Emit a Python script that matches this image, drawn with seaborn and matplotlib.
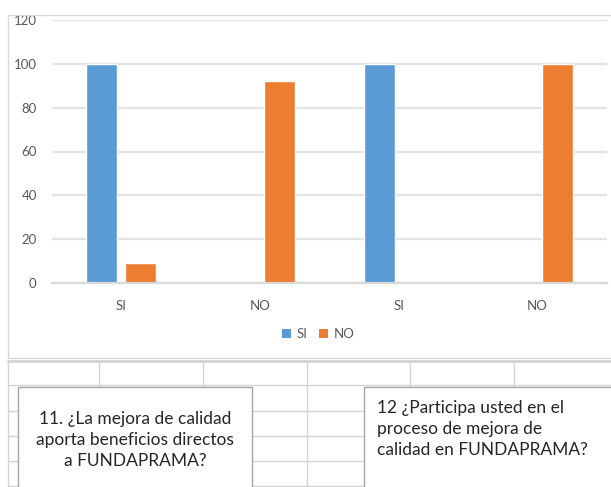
import matplotlib
matplotlib.use("Agg")
import matplotlib.pyplot as plt
import seaborn as sns
import pandas as pd
from matplotlib.patches import Rectangle, Patch
from matplotlib.lines import Line2D

# ---- data ----
categories = ["SI", "NO", "SI", "NO"]
series = ["SI", "NO"]
si_values = [100, 0, 100, 0]
no_values = [9, 92, 0, 100]
y_ticks = [0, 20, 40, 60, 80, 100, 120]
question_11 = "11. ¿La mejora de calidad\naporta beneficios directos\na FUNDAPRAMA?"
question_12 = "12 ¿Participa usted en el\nproceso de mejora de\ncalidad en FUNDAPRAMA?"
colors = ["#5B9BD5", "#ED7D31"]

W, H = 611, 487
sns.set_theme(style="white")
plt.rcParams['font.family'] = ['Lato', 'DejaVu Sans']

positions = [str(i) for i in range(len(categories))]
df = pd.DataFrame({
    "pos": positions * 2,
    "serie": [series[0]] * len(categories) + [series[1]] * len(categories),
    "valor": si_values + no_values,
})

fig = plt.figure(figsize=(W / 100, H / 100), dpi=100)
fig.patch.set_facecolor("white")


def fx(x):
    return x / W


def fy(y):
    return 1 - y / H


ax = fig.add_axes([fx(52), fy(283), fx(607) - fx(52), fy(20) - fy(283)])
sns.barplot(data=df, x="pos", y="valor", hue="serie", order=positions,
            hue_order=series, palette=colors, width=0.56, gap=0.2,
            saturation=1, errorbar=None, legend=False, ax=ax)
ax.set_ylim(0, 120)
ax.set_yticks(y_ticks)
ax.set_xticks(range(len(categories)))
ax.set_xticklabels(categories)
ax.set_xlabel("")
ax.set_ylabel("")
ax.set_axisbelow(True)
ax.yaxis.grid(True, color="#e3e3e3", lw=1.6)
ax.xaxis.grid(False)
for s in ["left", "right", "top"]:
    ax.spines[s].set_visible(False)
ax.spines["bottom"].set_color("#d9d9d9")
ax.spines["bottom"].set_linewidth(1.6)
ax.tick_params(axis="both", length=0, colors="#595959", labelsize=9.5)
ax.tick_params(axis="y", pad=11)
ax.tick_params(axis="x", pad=12)
ax.set_facecolor("white")

# legend
handles = [Patch(facecolor=c, edgecolor="none") for c in colors]
fig.legend(handles, series, loc="center", bbox_to_anchor=(fx(318), fy(334)),
           ncol=2, frameon=False, fontsize=9.5, handlelength=0.7,
           handleheight=0.7, handletextpad=0.4, columnspacing=0.9,
           labelcolor="#595959")

# white strip above the chart frame (the top of the chart is cut off)
fig.add_artist(Rectangle((0, fy(15.5)), 1, 1 - fy(15.5), transform=fig.transFigure,
                         facecolor="white", edgecolor="none", zorder=10))

# chart frame
fig.add_artist(Rectangle((fx(8), fy(358)), fx(640) - fx(8), fy(15.5) - fy(358),
                         transform=fig.transFigure, fill=False,
                         edgecolor="#d9d9d9", lw=1.0, zorder=11))

# spreadsheet grid below
grid_c = "#d4d4d4"
fig.add_artist(Line2D([fx(8), fx(611)], [fy(361), fy(361)], transform=fig.transFigure,
                      color=grid_c, lw=2.0, zorder=3))
for yy in [385, 411, 436, 461, 486]:
    fig.add_artist(Line2D([fx(8), fx(611)], [fy(yy), fy(yy)], transform=fig.transFigure,
                          color=grid_c, lw=1.0, zorder=3))
for xx in [8, 99, 203, 307, 410, 514]:
    fig.add_artist(Line2D([fx(xx), fx(xx)], [fy(361), fy(487)], transform=fig.transFigure,
                          color=grid_c, lw=1.0, zorder=3))

# text boxes
box_c = "#a6a6a6"
fig.add_artist(Rectangle((fx(18), fy(500)), fx(252) - fx(18), fy(387) - fy(500),
                         transform=fig.transFigure, facecolor="white",
                         edgecolor=box_c, lw=1.0, zorder=5))
fig.add_artist(Rectangle((fx(364), fy(500)), fx(640) - fx(364), fy(387) - fy(500),
                         transform=fig.transFigure, facecolor="white",
                         edgecolor=box_c, lw=1.0, zorder=5))
fig.text(fx(135), fy(440), question_11, ha="center", va="center", fontsize=12.5,
         color="#262626", linespacing=1.38, zorder=6)
fig.text(fx(377), fy(429), question_12, ha="left", va="center", fontsize=12.5,
         color="#262626", linespacing=1.38, zorder=6)

fig.savefig("out.png", dpi=100, facecolor="white")
